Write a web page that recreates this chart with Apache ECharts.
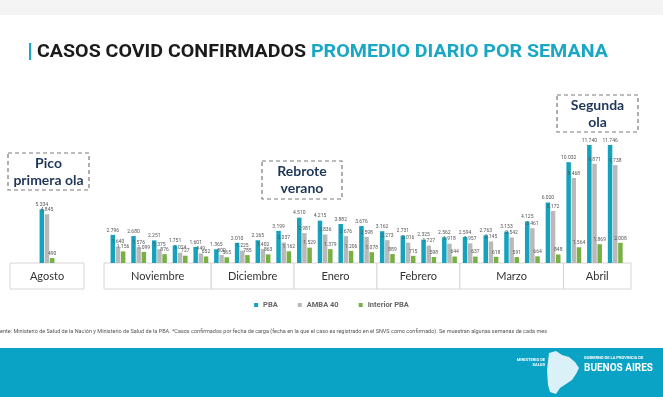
<!DOCTYPE html>
<html><head><meta charset="utf-8">
<script src="https://cdn.jsdelivr.net/npm/echarts@6/dist/echarts.min.js"></script>
<style>html,body{margin:0;padding:0;background:#fff}#c{width:663px;height:397px}</style>
</head><body><div id="c"></div>
<script>
const months = ['Agosto','Noviembre','Diciembre','Enero','Febrero','Marzo','Abril'];
const weeksPerMonth = [1,5,4,4,4,5,3];
const weeks = ['Ago-1','Nov-1','Nov-2','Nov-3','Nov-4','Nov-5','Dic-1','Dic-2','Dic-3','Dic-4','Ene-1','Ene-2','Ene-3','Ene-4','Feb-1','Feb-2','Feb-3','Feb-4','Mar-1','Mar-2','Mar-3','Mar-4','Mar-5','Abr-1','Abr-2','Abr-3'];
const pba      = [5334, 2796,2680,2251,1751,1601, 1365,2010,2265,3199, 4510,4215,3882,3676, 3162,2731,2325,2562, 2594,2763,3133,4125,6020, 10032,11740,11746];
const amba     = [4845, 1640,1576,1375,1024,949,  800,1225,1402,2037,  2981,2836,2676,2598, 2273,2016,1727,1918, 1957,2145,2542,3461,5172, 8468,9871,9738];
const interior = [490,  1156,1099,876,727,652,   565,785,863,1162,   1529,1379,1206,1078, 889,715,598,644,    637,618,591,664,848,    1564,1869,2008];
const seriesNames = ['PBA','AMBA 40','Interior PBA'];
const colors = ['#16a2bd','#b9b9b9','#78b043'];

const chart = echarts.init(document.getElementById('c'), null, {renderer:'canvas'});
const fmt = v => String(v).replace(/\B(?=(\d{3})+(?!\d))/g, '.');
const G1 = {left:37, width:20}, G2 = {left:107.6, width:518};
const TOP = 142.4, H = 120.6;
const label = {show:true, position:'top', fontSize:5, color:'#555', distance:2, formatter:p=>fmt(p.value), fontFamily:'Roboto'};
const all = [pba, amba, interior];
const series = [];
all.forEach((arr,si)=>{
  series.push({name:seriesNames[si], type:'bar', xAxisIndex:0, yAxisIndex:0, data:arr.slice(0,1), barWidth:4.5, barGap:'15%', itemStyle:{color:colors[si]}, label});
  series.push({name:seriesNames[si], type:'bar', xAxisIndex:1, yAxisIndex:1, data:arr.slice(1), barWidth:4.5, barGap:'15%', itemStyle:{color:colors[si]}, label});
});

const graphics = [];
const n2 = weeks.length - 1;
const bw = G2.width / n2;
graphics.push({type:'rect', shape:{x:G1.left+G1.width/2-37, y:263, width:74, height:26}, style:{fill:'#fff', stroke:'#d6d6d6', lineWidth:1}});
graphics.push({type:'text', x:G1.left+G1.width/2, y:276, style:{text:months[0], fill:'#333', font:'11px Lato', align:'center', verticalAlign:'middle'}});
let idx = 0;
for (let m=1; m<months.length; m++){
  let x0 = G2.left + idx*bw, x1 = G2.left + (idx+weeksPerMonth[m])*bw;
  if (m===1) x0 -= 3.6;
  if (m===months.length-1) x1 += 5.4;
  graphics.push({type:'rect', shape:{x:x0, y:263, width:x1-x0, height:26}, style:{fill:'#fff', stroke:'#d6d6d6', lineWidth:1}});
  graphics.push({type:'text', x:(x0+x1)/2, y:276, style:{text:months[m], fill:'#333', font:'11px Lato', align:'center', verticalAlign:'middle'}});
  idx += weeksPerMonth[m];
}
graphics.push({type:'rect', shape:{x:0,y:0,width:663,height:15}, style:{fill:'#f4f4f4'}});
graphics.push({type:'rect', shape:{x:29,y:43,width:2.2,height:17}, style:{fill:'#18a8c5'}});
graphics.push({type:'text', x:37, y:52, scaleX:1.09, style:{rich:{a:{font:'bold 18px Roboto', fill:'#1b1b1b'}, b:{font:'bold 18px Roboto', fill:'#19a7c4'}}, text:'{a|CASOS COVID CONFIRMADOS }{b|PROMEDIO DIARIO POR SEMANA}', verticalAlign:'middle'}});
function annot(x,y,w,h,txt){
  graphics.push({type:'rect', shape:{x,y,width:w,height:h}, style:{fill:'rgba(0,0,0,0)', stroke:'#7a7a7a', lineWidth:1.2, lineDash:[4,3]}});
  graphics.push({type:'text', x:x+w/2, y:y+h/2, style:{text:txt, font:'bold 14px Lato', fill:'#1f3659', align:'center', verticalAlign:'middle', lineHeight:17}});
}
annot(8,153,81,37,'Pico\nprimera ola');
annot(262,161,80,38,'Rebrote\nverano');
annot(557,95,81,37,'Segunda\nola');
graphics.push({type:'text', x:-6, y:332, style:{text:'Fuente: Ministerio de Salud de la Nación y Ministerio de Salud de la PBA. *Casos confirmados por fecha de carga (fecha en la que el caso es registrado en el SNVS como confirmado). Se muestran algunas semanas de cada mes', font:'5.5px Roboto', fill:'#555', verticalAlign:'middle'}});
graphics.push({type:'rect', shape:{x:0,y:348,width:663,height:49}, style:{fill:'#0aa2c5'}});
graphics.push({type:'text', x:545, y:362, style:{text:'MINISTERIO DE\nSALUD', font:'bold 4px Roboto', fill:'#fff', align:'right', verticalAlign:'middle', lineHeight:5}});
graphics.push({type:'polygon', shape:{points:[[549,353],[556,351],[562,355],[569,357],[575,362],[579,368],[576,374],[572,380],[566,384],[560,388],[556,394],[550,392],[548,385],[547,370]]}, style:{fill:'rgba(255,255,255,0.85)'}});
graphics.push({type:'text', x:584, y:358, style:{text:'GOBIERNO DE LA PROVINCIA DE', font:'bold 4px Roboto', fill:'#fff', verticalAlign:'middle'}});
graphics.push({type:'text', x:584, y:368, style:{text:'BUENOS AIRES', font:'bold 10px Roboto', fill:'#fff', verticalAlign:'middle'}});

chart.setOption({
  animation:false,
  backgroundColor:'#fff',
  color:colors,
  legend:{data:seriesNames, top:296, left:'center', itemWidth:4, itemHeight:4, icon:'rect', itemGap:20, textStyle:{fontSize:7.5, fontWeight:'bold', color:'#666', fontFamily:'Roboto'}},
  grid:[
    {left:G1.left, width:G1.width, top:TOP, height:H},
    {left:G2.left, width:G2.width, top:TOP, height:H}
  ],
  xAxis:[
    {gridIndex:0, type:'category', data:weeks.slice(0,1), axisLine:{show:false}, axisTick:{show:false}, axisLabel:{show:false}},
    {gridIndex:1, type:'category', data:weeks.slice(1), axisLine:{show:false}, axisTick:{show:false}, axisLabel:{show:false}}
  ],
  yAxis:[
    {gridIndex:0, type:'value', min:0, max:12000, show:false, splitLine:{show:false}},
    {gridIndex:1, type:'value', min:0, max:12000, show:false, splitLine:{show:false}}
  ],
  series,
  graphic:{elements:graphics}
});
</script></body></html>
